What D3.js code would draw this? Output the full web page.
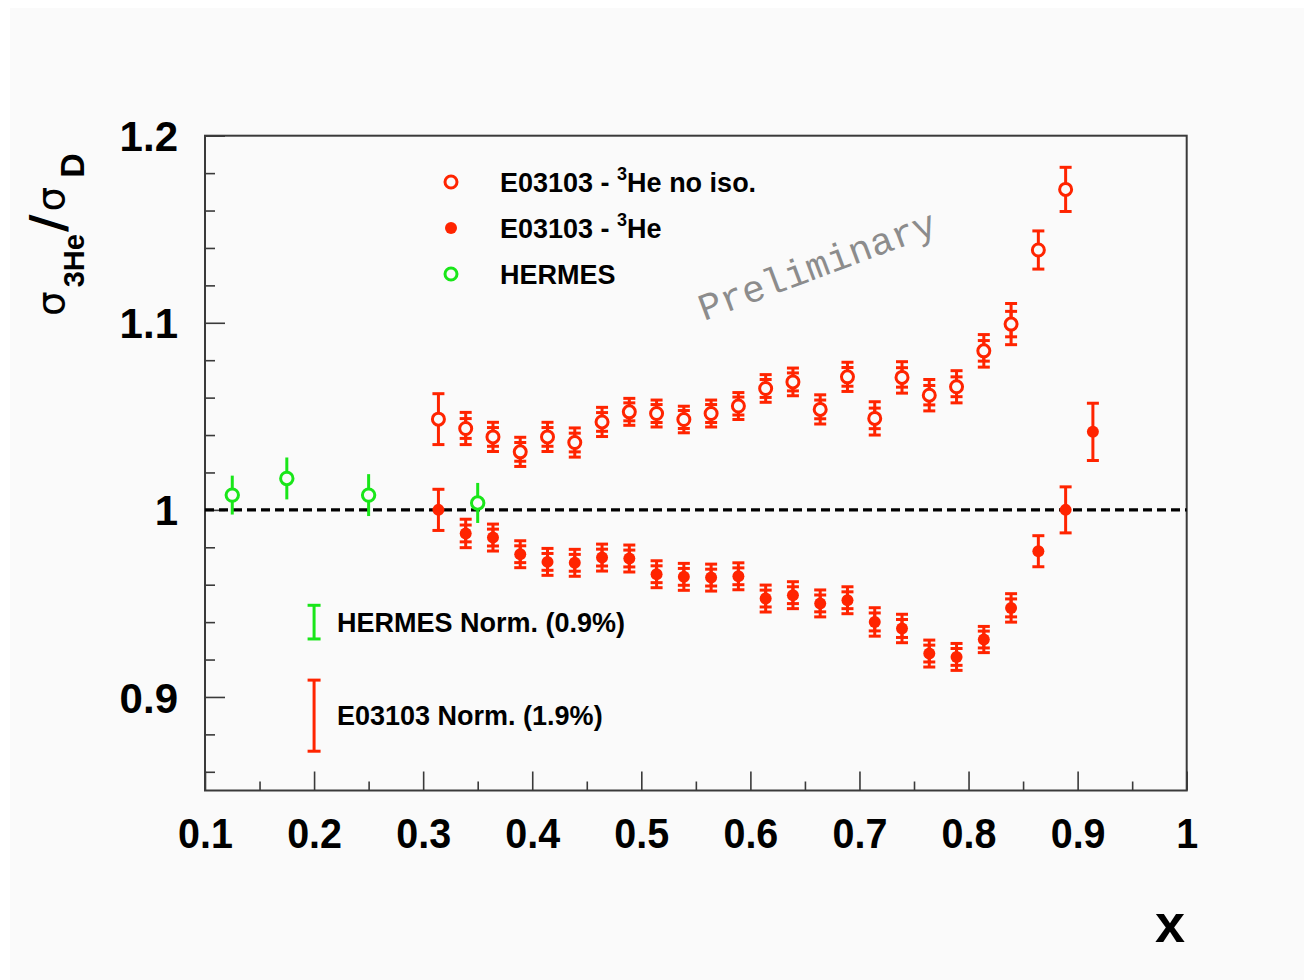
<!DOCTYPE html>
<html>
<head>
<meta charset="utf-8">
<script src="https://cdn.jsdelivr.net/npm/d3@7"></script>
<style>
  html, body { margin: 0; padding: 0; background: #ffffff; }
  svg { display: block; font-family: "Liberation Sans", Arial, Helvetica, sans-serif; }
</style>
</head>
<body>
<svg id="chart" width="1304" height="980"></svg>
<script>
// ---- data -------------------------------------------------------------
// E03103 bins in Bjorken x
const e03103X = [0.314, 0.339, 0.364, 0.389, 0.414, 0.439, 0.464, 0.489, 0.514, 0.539, 0.564, 0.589,
                 0.614, 0.639, 0.664, 0.689, 0.714, 0.739, 0.764, 0.789, 0.814, 0.839, 0.864, 0.889, 0.914];

// 3He/D ratio without isoscalar correction
const noIsoRatio = [1.0485, 1.0435, 1.039, 1.031, 1.039, 1.036, 1.047, 1.0524, 1.0515, 1.0483, 1.0515, 1.0555,
                    1.0649, 1.0684, 1.0537, 1.0711, 1.0489, 1.0708, 1.0613, 1.0658, 1.085, 1.0993, 1.1389, 1.1713];
const noIsoStat  = [0.0136, 0.0053, 0.005, 0.005, 0.005, 0.005, 0.005, 0.0048, 0.0048, 0.0048, 0.0048, 0.0048,
                    0.0048, 0.0048, 0.005, 0.005, 0.0055, 0.0052, 0.0052, 0.0053, 0.0055, 0.0068, 0.0102, 0.0118];
const noIsoTotal = [0.0136, 0.0086, 0.0078, 0.0078, 0.0078, 0.0078, 0.0078, 0.0072, 0.0072, 0.0071, 0.0072, 0.0072,
                    0.0074, 0.0074, 0.0078, 0.0078, 0.0089, 0.0084, 0.0084, 0.0086, 0.0087, 0.011, 0.0102, 0.0118];

// 3He/D ratio with isoscalar correction
const isoRatio = [1.000, 0.9874, 0.9852, 0.9763, 0.9722, 0.9717, 0.9745, 0.974, 0.9656, 0.9642, 0.9638, 0.9645,
                  0.9526, 0.9544, 0.950, 0.9517, 0.9401, 0.9366, 0.9232, 0.9214, 0.9307, 0.9476, 0.9779, 1.000, 1.0417];
const isoStat  = [0.011, 0.0045, 0.0045, 0.0045, 0.0045, 0.0045, 0.0045, 0.0045, 0.0045, 0.0045, 0.0045, 0.0045,
                  0.0045, 0.0045, 0.0045, 0.0045, 0.0048, 0.0048, 0.0045, 0.0045, 0.0045, 0.0048, 0.0083, 0.0123, 0.0153];
const isoTotal = [0.011, 0.0076, 0.0072, 0.0072, 0.0072, 0.0072, 0.0072, 0.0072, 0.0072, 0.0072, 0.0072, 0.0072,
                  0.0072, 0.0072, 0.0072, 0.0072, 0.0076, 0.0076, 0.0072, 0.0072, 0.007, 0.0076, 0.0083, 0.0123, 0.0153];

// HERMES
const hermesX     = [0.125, 0.175, 0.25, 0.35];
const hermesRatio = [1.0079, 1.0168, 1.0079, 1.0037];
const hermesErr   = [0.0104, 0.0112, 0.0112, 0.0107];

// normalisation uncertainty bars: [x, centre, half-width]
const hermesNorm = [0.2, 0.94, 0.009];
const e03103Norm = [0.2, 0.89, 0.019];
const normLabels = ["HERMES Norm. (0.9%)", "E03103 Norm. (1.9%)"];

// axes
const xTicks = [0.1, 0.2, 0.3, 0.4, 0.5, 0.6, 0.7, 0.8, 0.9, 1.0];
const xTickLabels = ["0.1", "0.2", "0.3", "0.4", "0.5", "0.6", "0.7", "0.8", "0.9", "1"];
const yTicks = [0.9, 1.0, 1.1, 1.2];
const yTickLabels = ["0.9", "1", "1.1", "1.2"];

// ---- drawing ------------------------------------------------------------
const RED = "#ff2400";
const GREEN = "#19e619";
const SANS = "'Liberation Sans', Arial, Helvetica, sans-serif";

const svg = d3.select("#chart");
svg.append("rect").attr("x", 10).attr("y", 8).attr("width", 1294).attr("height", 972).attr("fill", "#fafafa");

const L = 205, R = 1186.7, T = 135.7, B = 790.5;
const x = d3.scaleLinear().domain([0.1, 1.0]).range([L, R]);
const y = d3.scaleLinear().domain([0.85, 1.2]).range([B, T]);

// frame
svg.append("rect").attr("x", L).attr("y", T).attr("width", R - L).attr("height", B - T)
  .attr("fill", "#fafafa").attr("stroke", "#3a3a3a").attr("stroke-width", 2);

// ticks (inside the frame)
const yMinor = d3.range(0.86, 1.2, 0.02).filter(v => !yTicks.some(t => Math.abs(t - v) < 1e-6));
const xMinor = d3.range(0.15, 1.0, 0.1);

const yAxisMajor = d3.axisLeft(y).tickValues(yTicks).tickSize(-20).tickPadding(27)
  .tickFormat((d, i) => yTickLabels[i]);
const yAxisMinor = d3.axisLeft(y).tickValues(yMinor).tickSize(-10).tickFormat("");
const xAxisMajor = d3.axisBottom(x).tickValues(xTicks).tickSize(-19).tickPadding(28)
  .tickFormat((d, i) => xTickLabels[i]);
const xAxisMinor = d3.axisBottom(x).tickValues(xMinor).tickSize(-9).tickFormat("");

function styleAxis(g) {
  g.attr("font-family", null).attr("font-size", null);
  g.select(".domain").remove();
  g.selectAll(".tick line").attr("stroke", "#3a3a3a").attr("stroke-width", 1.6);
  g.selectAll(".tick text").attr("fill", "#000").attr("font-weight", "bold").attr("font-size", 42)
    .style("font-family", SANS);
}
svg.append("g").attr("transform", `translate(${L},0)`).call(yAxisMajor).call(styleAxis)
  .selectAll(".tick text").attr("dy", "0.36em");
svg.append("g").attr("transform", `translate(${L},0)`).call(yAxisMinor).call(styleAxis);
svg.append("g").attr("transform", `translate(0,${B})`).call(xAxisMajor).call(styleAxis)
  .selectAll(".tick text").attr("dy", "0.71em").attr("transform", "scale(0.94,1)");
svg.append("g").attr("transform", `translate(0,${B})`).call(xAxisMinor).call(styleAxis);

// unity reference line
svg.append("line").attr("x1", L).attr("x2", R).attr("y1", y(1)).attr("y2", y(1))
  .attr("stroke", "#000").attr("stroke-width", 3.2).attr("stroke-dasharray", "9,5");

// axis titles: sigma_3He / sigma_D
const yTitle = svg.append("text")
  .attr("transform", `translate(64,${316}) rotate(-90)`)
  .attr("font-size", 39).attr("fill", "#000");
yTitle.append("tspan").text("σ").style("font-family", "'DejaVu Sans', sans-serif");
yTitle.append("tspan").text("3He").attr("font-weight", "bold").attr("font-size", 29).attr("dy", 20).attr("dx", 4);
yTitle.append("tspan").text("/").attr("font-weight", "bold").attr("font-size", 48).attr("dy", -20).attr("dx", 2)
  .style("font-family", "'DejaVu Sans', sans-serif");
yTitle.append("tspan").text("σ").style("font-family", "'DejaVu Sans', sans-serif").attr("dx", 3);
yTitle.append("tspan").text("D").attr("font-weight", "bold").attr("font-size", 34).attr("dy", 20).attr("dx", 9);

svg.append("text").attr("x", 1185).attr("y", 942).attr("text-anchor", "end")
  .attr("font-size", 54).attr("font-weight", "bold").attr("fill", "#000").text("x");

// watermark
svg.append("text").attr("transform", "translate(704,321) rotate(-20.5)")
  .style("font-family", "'Liberation Mono', 'Courier New', monospace")
  .attr("font-size", 38).attr("fill", "#8c8c8c").text("Preliminary");

// error bar helper
function errorBar(g, cx, yc, lo, hi, color, cap, width) {
  g.append("line").attr("x1", cx).attr("x2", cx).attr("y1", y(yc - lo)).attr("y2", y(yc + hi))
    .attr("stroke", color).attr("stroke-width", width);
  if (cap > 0) {
    [yc - lo, yc + hi].forEach(v => {
      g.append("line").attr("x1", cx - cap).attr("x2", cx + cap).attr("y1", y(v)).attr("y2", y(v))
        .attr("stroke", color).attr("stroke-width", width);
    });
  }
}

// HERMES points
const gH = svg.append("g");
hermesX.forEach((xv, i) => {
  errorBar(gH, x(xv), hermesRatio[i], hermesErr[i], hermesErr[i], GREEN, 0, 3);
  gH.append("circle").attr("cx", x(xv)).attr("cy", y(hermesRatio[i])).attr("r", 6.2)
    .attr("fill", "#fafafa").attr("stroke", GREEN).attr("stroke-width", 3);
});

// E03103 without isoscalar correction (open)
const gO = svg.append("g");
noIsoRatio.forEach((v, i) => {
  const cx = x(e03103X[i]);
  errorBar(gO, cx, v, noIsoTotal[i], noIsoTotal[i], RED, 6, 3);
  if (noIsoStat[i] < noIsoTotal[i]) errorBar(gO, cx, v, noIsoStat[i], noIsoStat[i], RED, 6, 3);
  gO.append("circle").attr("cx", cx).attr("cy", y(v)).attr("r", 6)
    .attr("fill", "#fafafa").attr("stroke", RED).attr("stroke-width", 3);
});

// E03103 with isoscalar correction (filled)
const gF = svg.append("g");
isoRatio.forEach((v, i) => {
  const cx = x(e03103X[i]);
  errorBar(gF, cx, v, isoTotal[i], isoTotal[i], RED, 6, 3);
  if (isoStat[i] < isoTotal[i]) errorBar(gF, cx, v, isoStat[i], isoStat[i], RED, 6, 3);
  gF.append("circle").attr("cx", cx).attr("cy", y(v)).attr("r", 6).attr("fill", RED);
});

// legend
const legend = [
  { label: "E03103 - ", sup: "3", rest: "He no iso.", color: RED, open: true },
  { label: "E03103 - ", sup: "3", rest: "He", color: RED, open: false },
  { label: "HERMES", sup: "", rest: "", color: GREEN, open: true }
];
legend.forEach((d, i) => {
  const ly = 182 + i * 46;
  const c = svg.append("circle").attr("cx", 451).attr("cy", ly).attr("r", 6);
  if (d.open) c.attr("fill", "#fafafa").attr("stroke", d.color).attr("stroke-width", 3);
  else c.attr("fill", d.color);
  const t = svg.append("text").attr("x", 500).attr("y", ly + 9.5).attr("font-size", 27)
    .attr("font-weight", "bold").attr("fill", "#000");
  t.append("tspan").text(d.label);
  if (d.sup) {
    t.append("tspan").text(d.sup).attr("font-size", 18).attr("dy", -12);
    t.append("tspan").text(d.rest).attr("dy", 12);
  }
});

// normalisation bars
[[hermesNorm, GREEN], [e03103Norm, RED]].forEach(([n, col], i) => {
  const g = svg.append("g");
  errorBar(g, x(n[0]), n[1], n[2], n[2], col, 6.5, 3);
  svg.append("text").attr("x", 337).attr("y", y(n[1]) + 9.5).attr("font-size", 27)
    .attr("font-weight", "bold").attr("fill", "#000").text(normLabels[i]);
});
</script>
</body>
</html>
